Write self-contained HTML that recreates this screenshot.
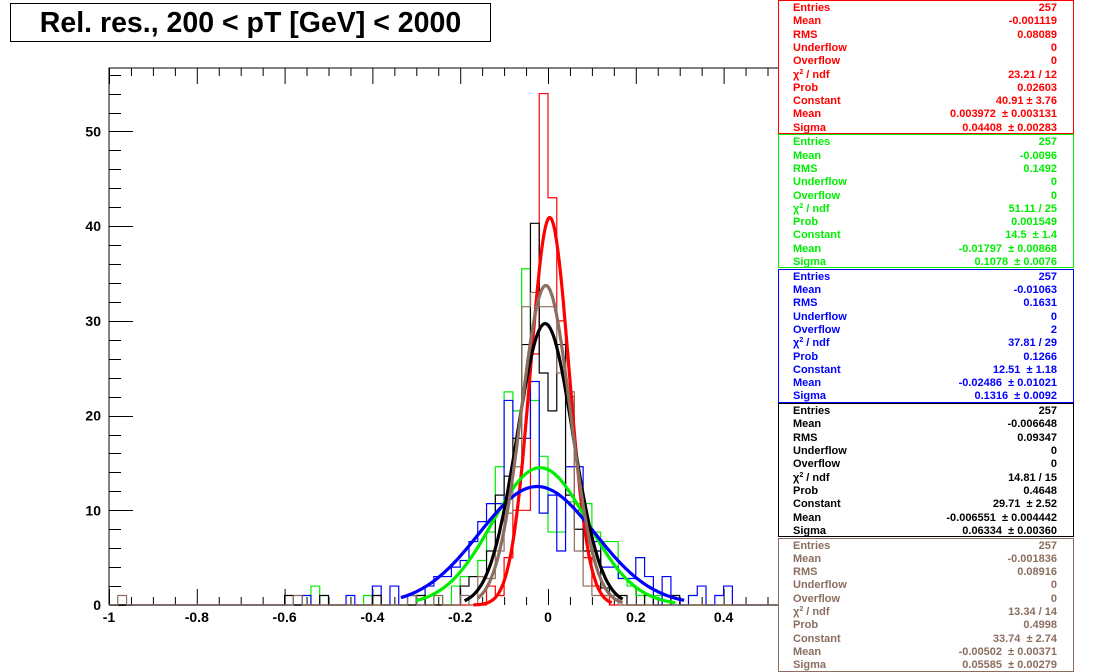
<!DOCTYPE html>
<html><head><meta charset="utf-8"><style>
body{margin:0;background:#fff;width:1096px;height:672px;overflow:hidden;font-family:"Liberation Sans",Arial,sans-serif;}
.box{position:absolute;left:778px;width:296px;height:134px;border:1px solid;background:#fff;font-weight:bold;font-size:11px;box-sizing:border-box}
.row{position:absolute;left:14px;right:16px;height:13px;line-height:13px}
.row span:last-child{position:absolute;right:0}
sup{font-size:7px;line-height:0;vertical-align:4px}
</style></head><body>
<svg id="chart" width="1096" height="672" style="position:absolute;left:0;top:0">
<g id="ticks"></g><g id="hists"></g><g id="fits"></g><g id="labels"></g>
</svg>
<div style="position:absolute;left:10px;top:3px;width:479px;height:37px;border:1px solid #000;background:#fff;font-weight:bold;font-size:28.5px;text-align:center;line-height:38px;white-space:nowrap">Rel. res., 200 &lt; pT [GeV] &lt; 2000</div>
<div id="boxes"></div>
<script>
const redStarts=[-0.14,-0.12,-0.10,-0.08,-0.06,-0.04,-0.02,0,0.02,0.04,0.06,0.08,0.10,0.12];
const redCounts=[2,1,5,10,10,26.5,54,43,30,22,10,5,2,1];
const blackStarts=[-0.60,-0.52,-0.40,-0.30,-0.20,-0.18,-0.16,-0.14,-0.12,-0.10,-0.08,-0.06,-0.04,-0.02,0,0.02,0.04,0.06,0.08,0.10,0.12,0.14,0.16,0.22,0.28];
const blackCounts=[1,1,1,1,2,3,3,5.7,11.6,13.6,17.6,27.5,40.3,24.5,20.5,27.5,11.6,8,5.7,5.7,1.8,1,1,1,1];
const brownStarts=[-0.98,-0.58,-0.32,-0.26,-0.20,-0.16,-0.14,-0.12,-0.10,-0.08,-0.06,-0.04,-0.02,0,0.02,0.04,0.06,0.08,0.10,0.12,0.14];
const brownCounts=[1,1,1,1,1,3,2.8,5.7,9.7,14.6,31.5,33,31.5,31.5,24.5,22.5,5.7,2,1,1,1];
const greenStarts=[-0.54,-0.42,-0.30,-0.26,-0.22,-0.20,-0.18,-0.16,-0.14,-0.12,-0.10,-0.08,-0.06,-0.04,-0.02,0,0.02,0.04,0.06,0.08,0.10,0.12,0.14,0.16,0.18,0.20,0.24];
const greenCounts=[2,1,1,1,2,3,3,4.7,7.7,14.6,22.5,20.5,35.5,21.6,15.7,7.7,7.7,10.9,10.7,10.7,7.7,6.7,6.7,2.8,2,1,1];
const blueStarts=[-0.56,-0.46,-0.40,-0.36,-0.32,-0.28,-0.26,-0.24,-0.22,-0.20,-0.18,-0.16,-0.14,-0.12,-0.10,-0.08,-0.06,-0.04,-0.02,0,0.02,0.04,0.06,0.08,0.10,0.12,0.14,0.16,0.18,0.20,0.22,0.26,0.32,0.34,0.38,0.40];
const blueCounts=[1,1,2,2,1,2,3,3,4,4.7,6.7,8.8,10.7,10.7,21.6,17.6,17.6,23.6,9.7,11.6,5.7,14.6,14.6,7.7,6.7,4,4,2.8,2.8,5,3,3,1,2,1,2];
const fits=[
 {name:'red',color:'#ff0000',c:40.91,m:0.003972,s:0.04408,lo:-0.17,hi:0.145},
 {name:'green',color:'#00ee00',c:14.5,m:-0.01797,s:0.1078,lo:-0.30,hi:0.29},
 {name:'blue',color:'#0000ff',c:12.51,m:-0.02486,s:0.1316,lo:-0.335,hi:0.31},
 {name:'black',color:'#000000',c:29.71,m:-0.006551,s:0.06334,lo:-0.19,hi:0.17},
 {name:'brown',color:'#8b6e5f',c:33.74,m:-0.00502,s:0.05585,lo:-0.16,hi:0.17}];
const xTicks=[-1,-0.8,-0.6,-0.4,-0.2,0,0.2,0.4];
const yTicks=[0,10,20,30,40,50];
const X0=109,X1=987,Y0=605,Y1=68,XMIN=-1,XMAX=1,YMAX=56.7,BW=0.02;
const sx=v=>X0+(v-XMIN)/(XMAX-XMIN)*(X1-X0);
const sy=v=>Y0-v/YMAX*(Y0-Y1);
const NS='http://www.w3.org/2000/svg';
function mk(t,p,attrs){const e=document.createElementNS(NS,t);for(const k in attrs)e.setAttribute(k,attrs[k]);p.appendChild(e);return e;}
const tk=document.getElementById('ticks');
let f=mk('path',tk,{d:`M${X0} ${Y0}V${Y1}H1000`,stroke:'#000',fill:'none','stroke-width':1});


for(let v=-1;v<=1.0001;v+=0.05){
 const maj=Math.abs(v/0.2-Math.round(v/0.2))<1e-6;const x=sx(v)+0.5,L=maj?16:8;
 mk('line',tk,{x1:x,x2:x,y1:Y0,y2:Y0-L,stroke:'#000'});
 mk('line',tk,{x1:x,x2:x,y1:Y1,y2:Y1+L,stroke:'#000'});
}
for(let v=0;v<=YMAX;v+=2){const maj=v%10===0;const y=Math.round(sy(v))+0.5;
 mk('line',tk,{x1:X0,x2:X0+(maj?24:12),y1:y,y2:y,stroke:'#000'});}
const lb=document.getElementById('labels');
xTicks.forEach(v=>{const t=mk('text',lb,{x:sx(v),y:622,'text-anchor':'middle','font-size':14,'font-weight':'bold','font-family':'Liberation Sans, sans-serif'});t.textContent=String(v);
 
 });
yTicks.forEach(v=>{const t=mk('text',lb,{x:101,y:sy(v)+5,'text-anchor':'end','font-size':14,'font-weight':'bold','font-family':'Liberation Sans, sans-serif'});t.textContent=String(v);
 
 });
const hg=document.getElementById('hists');
function hist(starts,counts,color,name){
 const map={};starts.forEach((s,i)=>map[Math.round((s+1)/BW)]=counts[i]);
 let cur=0;let d=`M${sx(-1)} ${sy(0)}`;
 for(let i=0;i<100;i++){const c=map[i]||0;const xa=sx(-1+i*BW),xb=sx(-1+(i+1)*BW);
  if(c!==cur){d+=`L${xa} ${sy(c)}`;cur=c;} d+=`L${xb} ${sy(c)}`;}
 const p=mk('path',hg,{d,fill:'none',stroke:color,'stroke-width':1.2});
 
 
}
hist(redStarts,redCounts,'#ff0000','red-histogram');
hist(greenStarts,greenCounts,'#00ee00','green-histogram');
hist(blueStarts,blueCounts,'#0000ff','blue-histogram');
hist(blackStarts,blackCounts,'#000000','black-histogram');
hist(brownStarts,brownCounts,'#8b6e5f','brown-histogram');
const fg=document.getElementById('fits');
fits.forEach(F=>{let d='';for(let i=0;i<=200;i++){const v=F.lo+(F.hi-F.lo)*i/200;const y=F.c*Math.exp(-0.5*((v-F.m)/F.s)**2);d+=(i?'L':'M')+sx(v).toFixed(1)+' '+sy(y).toFixed(1);}
 const p=mk('path',fg,{d,fill:'none',stroke:F.color,'stroke-width':3.2});
 
 });
const boxes=[
 ['red','#ff0000',['257','-0.001119','0.08089','0','0','23.21 / 12','0.02603','40.91 ± 3.76','0.003972 &nbsp;± 0.003131','0.04408 &nbsp;± 0.00283']],
 ['green','#00ee00',['257','-0.0096','0.1492','0','0','51.11 / 25','0.001549','14.5 &nbsp;± 1.4','-0.01797 &nbsp;± 0.00868','0.1078 &nbsp;± 0.0076']],
 ['blue','#0000ff',['257','-0.01063','0.1631','0','2','37.81 / 29','0.1266','12.51 &nbsp;± 1.18','-0.02486 &nbsp;± 0.01021','0.1316 &nbsp;± 0.0092']],
 ['black','#000000',['257','-0.006648','0.09347','0','0','14.81 / 15','0.4648','29.71 &nbsp;± 2.52','-0.006551 &nbsp;± 0.004442','0.06334 &nbsp;± 0.00360']],
 ['brown','#8b6e5f',['257','-0.001836','0.08916','0','0','13.34 / 14','0.4998','33.74 &nbsp;± 2.74','-0.00502 &nbsp;± 0.00371','0.05585 &nbsp;± 0.00279']]];
const keys=['Entries','Mean','RMS','Underflow','Overflow','χ<sup>2</sup> / ndf','Prob','Constant','Mean','Sigma'];
const bx=document.getElementById('boxes');
boxes.forEach((b,i)=>{const d=document.createElement('div');d.className='box';
 
 
 d.style.top=(i*134.4)+'px';d.style.borderColor=b[1];d.style.color=b[1];
 keys.forEach((k,j)=>{const r=document.createElement('div');r.className='row';r.style.top=(1+j*13.3)+'px';
  r.innerHTML='<span>'+k+'</span><span>'+b[2][j]+'</span>';d.appendChild(r);});
 bx.appendChild(d);});
</script>
</body></html>
